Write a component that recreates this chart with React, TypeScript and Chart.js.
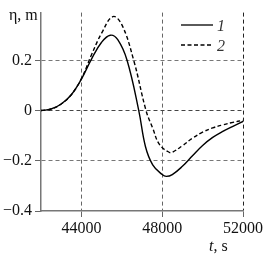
import React, { useEffect, useRef } from "react";
import { Chart, registerables } from "chart.js";

Chart.register(...registerables);

const t1 = [42000, 42500, 43000, 43500, 44000, 44500, 45000, 45430, 45800, 46260, 46840, 47170, 47530, 48000, 48200, 48500, 49000, 49500, 50000, 50500, 51000, 51500, 52000];
const eta1 = [0, 0.006, 0.026, 0.063, 0.125, 0.205, 0.272, 0.3, 0.282, 0.2, 0.0, -0.143, -0.216, -0.255, -0.262, -0.255, -0.222, -0.18, -0.139, -0.107, -0.083, -0.063, -0.043];

const t2 = [42000, 42500, 43000, 43500, 44000, 44500, 45000, 45560, 46000, 46590, 47200, 47530, 47870, 48360, 48500, 49000, 49500, 50000, 50500, 51000, 51500, 52000];
const eta2 = [0, 0.006, 0.026, 0.063, 0.127, 0.222, 0.308, 0.374, 0.342, 0.2, 0.0, -0.07, -0.136, -0.167, -0.166, -0.14, -0.11, -0.086, -0.069, -0.057, -0.047, -0.039];

const xTicks = [44000, 48000, 52000];
const yTicks = [-0.4, -0.2, 0, 0.2];
const seriesLabels = ["1", "2"];

const FONT = "'Liberation Serif', 'Times New Roman', serif";

const annotPlugin = {
  id: "annot",
  afterDraw(chart: any) {
    const ctx = chart.ctx;
    ctx.save();
    ctx.fillStyle = "#111";
    ctx.textBaseline = "alphabetic";
    ctx.textAlign = "left";
    ctx.font = `16px ${FONT}`;
    ctx.fillText("η, m", 9, 20);
    ctx.font = `italic 16px ${FONT}`;
    ctx.fillText("t", 209, 251);
    const w = ctx.measureText("t").width;
    ctx.font = `16px ${FONT}`;
    ctx.fillText(", s", 209 + w, 251);
    ctx.strokeStyle = "#000";
    ctx.lineWidth = 1.3;
    ctx.setLineDash([]);
    ctx.beginPath();
    ctx.moveTo(181, 25);
    ctx.lineTo(213, 25);
    ctx.stroke();
    ctx.setLineDash([4, 2.5]);
    ctx.beginPath();
    ctx.moveTo(181, 45);
    ctx.lineTo(213, 45);
    ctx.stroke();
    ctx.setLineDash([]);
    ctx.font = `italic 16px ${FONT}`;
    ctx.fillStyle = "#333";
    ctx.fillText(seriesLabels[0], 217, 31);
    ctx.fillText(seriesLabels[1], 217, 51);
    ctx.restore();
  },
};

export default function App() {
  const ref = useRef<HTMLCanvasElement>(null);
  useEffect(() => {
    let chart: any = null;
    let cancelled = false;
    const build = () => {
      if (cancelled || !ref.current) return;
      chart = new Chart(ref.current, {
        type: "line",
        data: {
          datasets: [
            {
              label: seriesLabels[0],
              data: t1.map((t, i) => ({ x: t, y: eta1[i] })),
              borderColor: "#000",
              borderWidth: 1.4,
              pointRadius: 0,
              tension: 0.4,
              fill: false,
            },
            {
              label: seriesLabels[1],
              data: t2.map((t, i) => ({ x: t, y: eta2[i] })),
              borderColor: "#000",
              borderWidth: 1.4,
              borderDash: [4, 2.5],
              pointRadius: 0,
              tension: 0.4,
              fill: false,
            },
          ],
        },
        options: {
          animation: false,
          responsive: true,
          maintainAspectRatio: false,
          layout: { padding: { left: 0, right: 23, top: 12, bottom: 0 } },
          plugins: { legend: { display: false }, tooltip: { enabled: false } },
          scales: {
            x: {
              type: "linear",
              min: 42000,
              max: 52000,
              afterBuildTicks: (s: any) => {
                s.ticks = xTicks.map((v) => ({ value: v }));
              },
              afterFit: (s: any) => {
                s.height = 45;
              },
              ticks: {
                color: "#111",
                font: { family: FONT, size: 16 },
                padding: 2,
                maxRotation: 0,
                autoSkip: false,
                callback: (v: any) => String(v),
              },
              grid: {
                color: (c: any) => (c.tick && c.tick.value === 52000 ? "#222" : "#666"),
                lineWidth: 1,
                tickColor: "#666",
                tickLength: 6,
                tickBorderDash: [],
              },
              border: { display: true, color: "#777", width: 1.5, dash: [4, 3] },
            },
            y: {
              type: "linear",
              min: -0.4,
              max: 0.39,
              afterBuildTicks: (s: any) => {
                s.ticks = yTicks.map((v) => ({ value: v }));
              },
              afterFit: (s: any) => {
                s.width = 41;
              },
              ticks: {
                color: "#111",
                font: { family: FONT, size: 16 },
                padding: 3,
                autoSkip: false,
                callback: (v: any) => (v < 0 ? "\u2212" + String(Math.abs(v)) : String(v)),
              },
              grid: {
                color: (c: any) => (c.tick && c.tick.value === -0.4 ? "rgba(0,0,0,0)" : c.tick && c.tick.value === 0 ? "#444" : "#777"),
                lineWidth: 1,
                tickColor: "#666",
                tickLength: 6,
                tickBorderDash: [],
              },
              border: { display: true, color: "#777", width: 1.5, dash: [4, 3] },
            },
          },
        },
        plugins: [annotPlugin],
      } as any);
    };
    const fonts: any = (document as any).fonts;
    if (fonts && fonts.load) {
      Promise.all([
        fonts.load("16px 'Liberation Serif'"),
        fonts.load("italic 16px 'Liberation Serif'"),
      ]).then(build, build);
    } else {
      build();
    }
    return () => {
      cancelled = true;
      if (chart) chart.destroy();
    };
  }, []);
  return (
    <div style={{ position: "fixed", left: 0, top: 0, width: 266, height: 256 }}>
      <canvas ref={ref} />
    </div>
  );
}
